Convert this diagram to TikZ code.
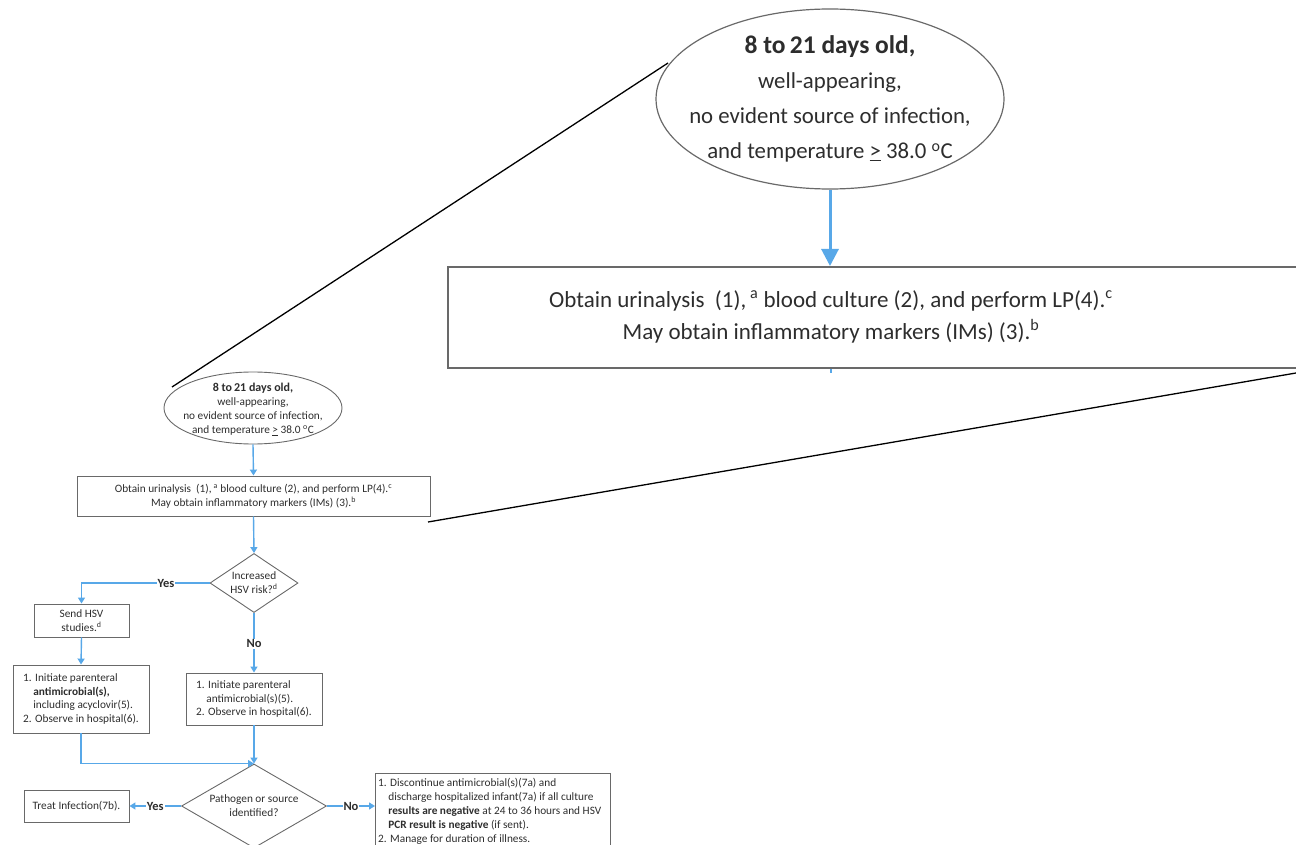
\documentclass[tikz,border=0pt]{standalone}
\usepackage{fontspec}
\setmainfont{Carlito}
\usetikzlibrary{shapes.geometric,arrows.meta}
\definecolor{flowblue}{RGB}{88,168,232}
\definecolor{boxgray}{RGB}{105,105,105}
\definecolor{txt}{RGB}{45,45,45}
\begin{document}
\begin{tikzpicture}[x=1pt,y=-1pt,
  every node/.style={text=txt},
  sfont/.style={font=\fontsize{11.3}{13.9}\selectfont},
  box/.style={draw=boxgray, line width=0.9pt, inner sep=0pt},
  flow/.style={draw=flowblue, line width=1.4pt, -{Triangle[width=7pt,length=6pt]}},
  flowplain/.style={draw=flowblue, line width=1.4pt},
  bigflow/.style={draw=flowblue, line width=3pt, -{Triangle[width=17pt,length=17pt]}},
  lbl/.style={font=\fontsize{12.5}{14}\selectfont\bfseries, fill=white, inner sep=1pt},
  zoomline/.style={draw=black, line width=1.3pt}
]
\useasboundingbox (0,0) rectangle (1296,845);

% ---------- small flowchart ----------
\node[box, ellipse, minimum width=178, minimum height=72] (e) at (253,408) {};
\node[sfont, align=center, inner sep=0pt] (et) at (253,409.5)
  {{\fontsize{12}{13.5}\selectfont\bfseries 8 to\,21 days old,}\\ well-appearing,\\ no evident source of infection,\\ and temperature \underline{>} 38.0 \textsuperscript{o}C};

\node[box, minimum width=353, minimum height=40, sfont, align=center] (b1) at (253.5,496)
  {Obtain urinalysis\ \ (1),\,\textsuperscript{a} blood culture (2), and perform LP(4).\textsuperscript{c}\\ May obtain inflammatory markers (IMs) (3).\textsuperscript{b}};

\node[box, diamond, minimum width=88, minimum height=59] (d1) at (254,583) {};
\node[sfont, align=center] (d1t) at (d1.center) {Increased\\ HSV risk?\textsuperscript{d}};

\node[box, minimum width=95, minimum height=33, sfont, align=center] (b2) at (81.5,620.5)
  {Send HSV\\ studies.\textsuperscript{d}};

\node[box, minimum width=136, minimum height=68, sfont, align=left] (b3) at (81,699)
  {1. Initiate parenteral\\ \hspace*{0.9em}\textbf{antimicrobial(s),}\\ \hspace*{0.9em}including acyclovir(5).\\ 2. Observe in hospital(6).};

\node[box, minimum width=136, minimum height=52, sfont, align=left] (b4) at (254,699)
  {1. Initiate parenteral\\ \hspace*{0.9em}antimicrobial(s)(5).\\ 2. Observe in hospital(6).};

\node[box, diamond, minimum width=145, minimum height=84] (d2) at (254,806) {};
\node[sfont, align=center] (d2t) at (d2.center) {Pathogen or source\\ identified?};

\node[box, minimum width=105, minimum height=32, sfont] (b5) at (76.5,806) {Treat Infection(7b).};

\node[box, minimum width=235, minimum height=96, anchor=north west] (b6) at (375,773) {};
\node[sfont, align=left, anchor=north west, inner sep=0pt] (b6t) at (378,778)
  {1. Discontinue antimicrobial(s)(7a) and\\
   \hspace*{0.9em}discharge hospitalized infant(7a) if all culture\\
   \hspace*{0.9em}\textbf{results are negative} at 24 to 36 hours and HSV\\
   \hspace*{0.9em}\textbf{PCR result is negative} (if sent).\\
   2. Manage for duration of illness.};

% connectors small
\draw[flow] (e.south) -- (b1.north);
\draw[flow] (b1.south) -- (d1.north);
\draw[flow] (d1.west) -| node[lbl, pos=0.17] {Yes} (b2.north);
\draw[flow] (b2.south) -- (b3.north);
\draw[flow] (d1.south) -- node[lbl, pos=0.52] {No} (b4.north);
\draw[flow] (b4.south) -- (d2.north);
\draw[flow] (b3.south) |- (d2.north);
\draw[flow] (d2.west) -- node[lbl, pos=0.5] {Yes} (b5.east);
\draw[flow] (d2.east) -- node[lbl, pos=0.5] {No} (b6.west |- d2.east);

% ---------- magnified view ----------
\node[box, ellipse, line width=1.2pt, minimum width=348, minimum height=180] (E) at (830,99) {};
\node[align=center, font=\fontsize{22.8}{35}\selectfont] (Et) at (E.center)
  {{\fontsize{25.5}{30}\selectfont\bfseries 8 to\,21 days old,}\\ well-appearing,\\ no evident source of infection,\\ and temperature \underline{>} 38.0 \textsuperscript{o}C};

\node[box, line width=2pt, minimum width=856, minimum height=101, anchor=north west] (B) at (447,266) {};
\node[align=center, font=\fontsize{23}{32}\selectfont] (Bt) at (831,316.5)
  {Obtain urinalysis\ \ (1),\,\textsuperscript{a} blood culture (2), and perform LP(4).\textsuperscript{c}\\ May obtain inflammatory markers (IMs) (3).\textsuperscript{b}};

\draw[bigflow] (E.south) -- (E.south |- B.north);
\coordinate (stub) at (831,373);
\draw[flowplain, line width=2pt] (Bt |- B.south) -- (stub);

% zoom lines
\coordinate (z1a) at (172,387);
\coordinate (z1b) at (668,63);
\coordinate (z2a) at (428,522);
\coordinate (z2b) at (1296,373);
\draw[zoomline] (z1a) -- (z1b);
\draw[zoomline] (z2a) -- (z2b);
\end{tikzpicture}
\end{document}
